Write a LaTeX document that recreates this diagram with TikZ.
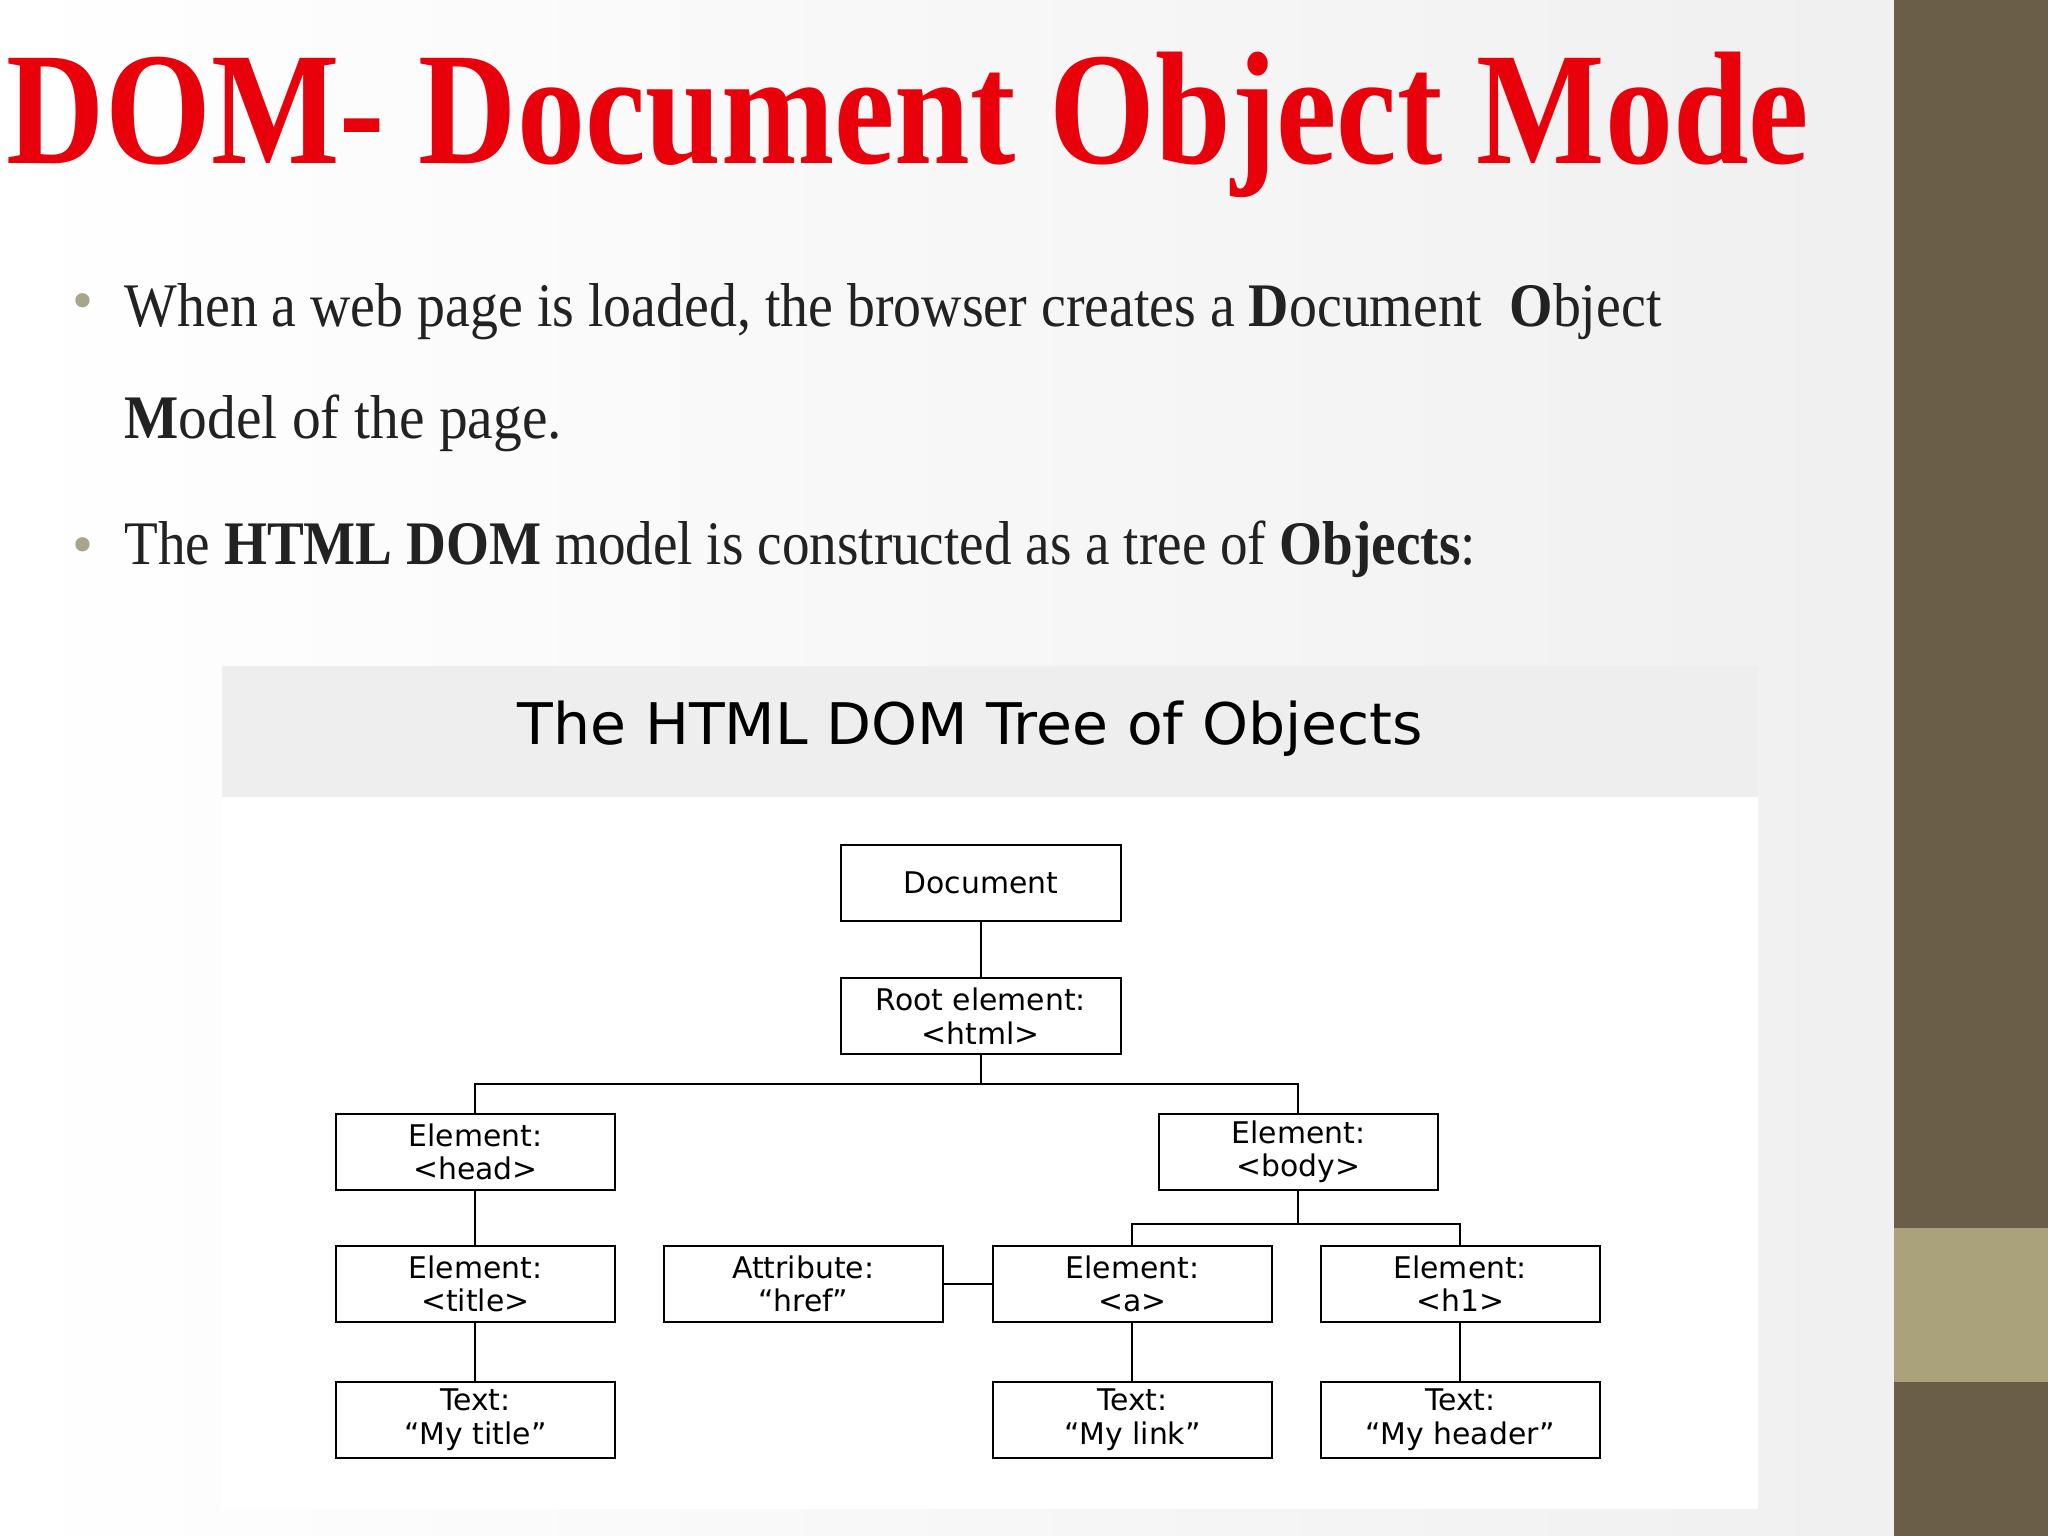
\documentclass[tikz,border=0pt]{standalone}
\usepackage{fontspec}
\usepackage{graphicx}
\setmainfont{Liberation Serif}
\newfontfamily\boxfont{DejaVu Sans}
\definecolor{band}{HTML}{6B5E48}
\definecolor{bandlight}{HTML}{A9A27A}
\definecolor{titlered}{HTML}{E8000B}
\definecolor{bul}{HTML}{A9A58A}
\definecolor{txt}{HTML}{222222}
\begin{document}
\begin{tikzpicture}[x=0.02cm,y=-0.02cm,
  obj/.style={draw,line width=0.9pt,minimum width=4.28cm,minimum height=1.16cm,inner sep=0pt,align=center,font=\boxfont\fontsize{13}{14.5}\selectfont},
  link/.style={line width=0.9pt},
  line/.style={anchor=base west,inner sep=0,text=txt,font=\fontsize{27}{27}\selectfont}]
\useasboundingbox (0,0) rectangle (1568,1176);
\shade[left color=white,right color=gray!12] (0,0) rectangle (1450,1176);
\fill[white] (170,610) rectangle (1346,1155);
\fill[band] (1450,0) rectangle (1568,1176);
\fill[bandlight] (1450,940) rectangle (1568,1058);
\node[anchor=base west,inner sep=0,text=titlered,font=\bfseries\fontsize{70}{70}\selectfont] (title) at (5,125) {\resizebox{27.6cm}{\height}{DOM- Document Object Mode}};
\node[anchor=base west,inner sep=0,text=bul,font=\fontsize{26}{26}\selectfont] (b1) at (55,245) {•};
\node[line] (t1) at (95,250) {\resizebox{23.54cm}{\height}{When a web page is loaded, the browser creates a \textbf{D}ocument \ \textbf{O}bject}};
\node[line] (t2) at (95,336) {\resizebox{6.7cm}{\height}{\textbf{M}odel of the page.}};
\node[anchor=base west,inner sep=0,text=bul,font=\fontsize{26}{26}\selectfont] (b2) at (55,432) {•};
\node[line] (t3) at (95,432) {\resizebox{20.7cm}{\height}{The \textbf{HTML DOM} model is constructed as a tree of \textbf{Objects}:}};
\fill[gray!13] (170,510) rectangle (1346,610);
\node[font=\boxfont\fontsize{25}{25}\selectfont] (hd) at (743,558) {\resizebox{13.86cm}{\height}{The HTML DOM Tree of Objects}};
\node[obj] (doc) at (751,676) {Document};
\node[obj] (root) at (751,778) {Root element:\\<html>};
\node[obj] (head) at (364,882) {Element:\\<head>};
\node[obj] (body) at (994,882) {Element:\\<body>};
\node[obj] (ttl) at (364,983) {Element:\\<title>};
\node[obj] (attr) at (615,983) {Attribute:\\“href”};
\node[obj] (a) at (867,983) {Element:\\<a>};
\node[obj] (h1) at (1118,983) {Element:\\<h1>};
\node[obj] (tt) at (364,1087) {Text:\\“My title”};
\node[obj] (ta) at (867,1087) {Text:\\“My link”};
\node[obj] (th) at (1118,1087) {Text:\\“My header”};
\draw[link] (doc) -- (root);
\draw[link] (root.south) -- ++(0,22) -| (head.north);
\draw[link] (root.south) ++(0,22) -| (body.north);
\draw[link] (body.south) -- ++(0,25) -| (a.north);
\draw[link] (body.south) ++(0,25) -| (h1.north);
\draw[link] (head) -- (ttl);
\draw[link] (ttl) -- (tt);
\draw[link] (attr) -- (a);
\draw[link] (a) -- (ta);
\draw[link] (h1) -- (th);
\end{tikzpicture}
\end{document}
